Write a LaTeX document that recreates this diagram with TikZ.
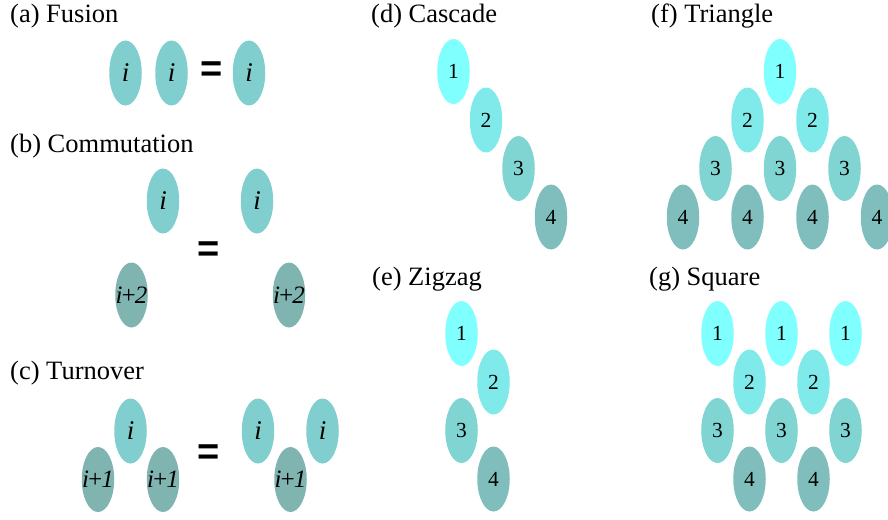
\documentclass[tikz,border=0pt]{standalone}
\usepackage{fontspec}
\setmainfont{Liberation Serif}
\newfontfamily\eqfont{Liberation Sans}
\usetikzlibrary{shapes.geometric}
\definecolor{cone}{RGB}{128,255,255}
\definecolor{ctwo}{RGB}{128,234,234}
\definecolor{cthree}{RGB}{128,212,210}
\definecolor{cfour}{RGB}{128,190,190}
\definecolor{cii}{RGB}{128,206,206}
\definecolor{cij}{RGB}{128,180,177}
\tikzset{
  x=1pt, y=-1pt,
  gate/.style={ellipse, minimum width=32.5pt, minimum height=65pt, inner sep=0pt, draw=none, text=black},
  numgate/.style={gate, font=\fontsize{21.5}{23}\selectfont},
  igate/.style={gate, fill=cii, font=\fontsize{27}{29}\selectfont\itshape},
  jgate/.style={gate, fill=cij, font=\fontsize{25}{27}\selectfont\itshape},
  lab/.style={anchor=base west, inner sep=0pt, font=\fontsize{26.5}{29}\selectfont},
  eqsign/.style={inner sep=0pt, font=\fontsize{38}{40}\selectfont\eqfont\bfseries},
}
\newcommand{\ipl}[1]{\makebox[0pt][c]{i\kern-2.5pt+\kern-2pt#1}}
\begin{document}
\begin{tikzpicture}
\useasboundingbox (0,0) rectangle (888,519);
% (a) Fusion
\node[lab] (la) at (10,23) {(a) Fusion};
\node[igate] (a1) at (125.5,73) {i};
\node[igate] (a2) at (171.5,73) {i};
\node[eqsign] (aeq) at (212,72) {=};
\node[igate] (a3) at (249,73) {i};
% (b) Commutation
\node[lab] (lb) at (10,152) {(b) Commutation};
\node[igate] (b1) at (163,201) {i};
\node[jgate] (b2) at (131.5,295) {\ipl{2}};
\node[eqsign] (beq) at (209,252) {=};
\node[igate] (b3) at (257,201) {i};
\node[jgate] (b4) at (289,295) {\ipl{2}};
% (c) Turnover
\node[lab] (lc) at (10,379) {(c) Turnover};
\node[igate] (c1) at (130.5,431) {i};
\node[jgate] (c2) at (98,479.5) {\ipl{1}};
\node[jgate] (c3) at (163,479.5) {\ipl{1}};
\node[eqsign] (ceq) at (209,455) {=};
\node[igate] (c4) at (258,431) {i};
\node[igate] (c5) at (322.5,431) {i};
\node[jgate] (c6) at (290.5,479.5) {\ipl{1}};
% (d) Cascade
\node[lab] (ld) at (371,23) {(d) Cascade};
\node[numgate, fill=cone] (d1) at (453.5,71.5) {1};
\node[numgate, fill=ctwo] (d2) at (486,120) {2};
\node[numgate, fill=cthree] (d3) at (518.5,168.5) {3};
\node[numgate, fill=cfour] (d4) at (551,217) {4};
% (e) Zigzag
\node[lab] (le) at (372,285) {(e) Zigzag};
\node[numgate, fill=cone] (e1) at (461.5,333.5) {1};
\node[numgate, fill=ctwo] (e2) at (493.5,382) {2};
\node[numgate, fill=cthree] (e3) at (461.5,430.5) {3};
\node[numgate, fill=cfour] (e4) at (493.5,479) {4};
% (f) Triangle
\node[lab] (lf) at (651,22.5) {(f) Triangle};
\node[numgate, fill=cone] (f1) at (780,71.5) {1};
\node[numgate, fill=ctwo] (f21) at (747.5,120) {2};
\node[numgate, fill=ctwo] (f22) at (812.5,120) {2};
\node[numgate, fill=cthree] (f31) at (715.5,168.5) {3};
\node[numgate, fill=cthree] (f32) at (780,168.5) {3};
\node[numgate, fill=cthree] (f33) at (844.5,168.5) {3};
\node[numgate, fill=cfour] (f41) at (683,217) {4};
\node[numgate, fill=cfour] (f42) at (747.5,217) {4};
\node[numgate, fill=cfour] (f43) at (812.5,217) {4};
\node[numgate, fill=cfour] (f44) at (877,217) {4};
% (g) Square
\node[lab] (lg) at (649,285) {(g) Square};
\node[numgate, fill=cone] (g11) at (717.5,333.5) {1};
\node[numgate, fill=cone] (g12) at (781.5,333.5) {1};
\node[numgate, fill=cone] (g13) at (845.5,333.5) {1};
\node[numgate, fill=ctwo] (g21) at (749.5,382) {2};
\node[numgate, fill=ctwo] (g22) at (813.5,382) {2};
\node[numgate, fill=cthree] (g31) at (717.5,430.5) {3};
\node[numgate, fill=cthree] (g32) at (781.5,430.5) {3};
\node[numgate, fill=cthree] (g33) at (845.5,430.5) {3};
\node[numgate, fill=cfour] (g41) at (749.5,479) {4};
\node[numgate, fill=cfour] (g42) at (813.5,479) {4};
\end{tikzpicture}
\end{document}
